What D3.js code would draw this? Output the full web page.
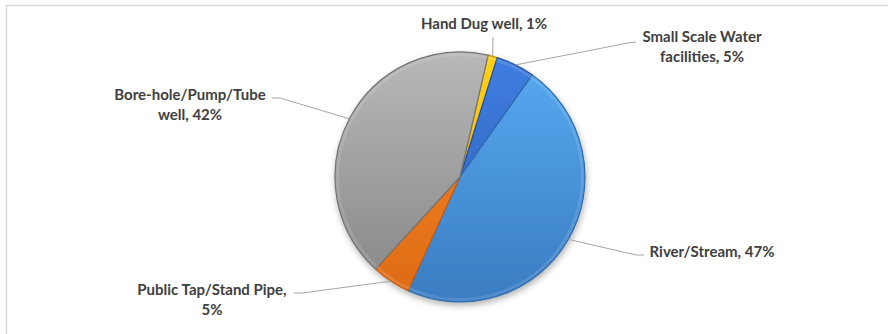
<!DOCTYPE html>
<html>
<head>
<meta charset="utf-8">
<script src="https://cdn.jsdelivr.net/npm/d3@7"></script>
<style>
  body { margin: 0; background: #fff; }
  svg { display: block; }
</style>
</head>
<body>
<svg width="888" height="334"></svg>
<script>
// data
const categories = ["Hand Dug well", "Small Scale Water facilities", "River/Stream", "Public Tap/Stand Pipe", "Bore-hole/Pump/Tube well"];
const shares = [1.2, 5, 47, 5, 41.8];
const shownPct = ["1%", "5%", "47%", "5%", "42%"];
const labelLines = [
    ["Hand Dug well, 1%"],
    ["Small Scale Water", "facilities, 5%"],
    ["River/Stream, 47%"],
    ["Public Tap/Stand Pipe,", "5%"],
    ["Bore-hole/Pump/Tube", "well, 42%"]
];
const colorsTop = ["#ffd21a", "#3f7fe2", "#58abf2", "#f7892a", "#b8b8b8"];
const colorsBottom = ["#e0a800", "#2c5bb0", "#3a7cc2", "#dd6a14", "#858585"];

// layout of the labels (x centre, first line y, where the leader meets the text)
const labelLayout = [
    { x: 484, y: 29, lx: 493, ly: 37, bend: null },
    { x: 702, y: 42, lx: 636, ly: 42, bend: [628, 43] },
    { x: 712, y: 257, lx: 644, ly: 255, bend: [636, 255] },
    { x: 212, y: 295, lx: 294, ly: 293, bend: [302, 293] },
    { x: 190, y: 100, lx: 272, ly: 98, bend: [280, 98] }
];

const svg = d3.select("svg");
const cx = 460, cy = 177, r = 125;
const startOffset = 13 * Math.PI / 180;

// chart border (only left and top visible)
svg.append("rect")
    .attr("x", 6.5).attr("y", 5.5)
    .attr("width", 900).attr("height", 340)
    .attr("fill", "none")
    .attr("stroke", "#d9d9d9")
    .attr("stroke-width", 1.5);

const defs = svg.append("defs");
const shadow = defs.append("filter").attr("id", "shadow")
    .attr("x", "-20%").attr("y", "-20%").attr("width", "140%").attr("height", "140%");
shadow.append("feDropShadow")
    .attr("dx", 1).attr("dy", 3).attr("stdDeviation", 3)
    .attr("flood-color", "#000").attr("flood-opacity", 0.3);

// gradients in the pie group's own coordinates (centred on 0,0)
categories.forEach((c, i) => {
    const g = defs.append("linearGradient")
        .attr("id", "grad" + i)
        .attr("gradientUnits", "userSpaceOnUse")
        .attr("x1", 0).attr("y1", -r)
        .attr("x2", 0).attr("y2", r);
    g.append("stop").attr("offset", "0%").attr("stop-color", colorsTop[i]);
    g.append("stop").attr("offset", "100%").attr("stop-color", colorsBottom[i]);
});

const pie = d3.pie()
    .value((d) => d)
    .sort(null)
    .startAngle(startOffset)
    .endAngle(startOffset + 2 * Math.PI);

const arcs = pie(shares);
const arc = d3.arc().innerRadius(0).outerRadius(r);
const edgeArc = d3.arc().innerRadius(r).outerRadius(r);

const pieG = svg.append("g")
    .attr("transform", `translate(${cx}, ${cy})`)
    .attr("filter", "url(#shadow)");

pieG.selectAll("path.slice")
    .data(arcs)
    .enter()
    .append("path")
    .attr("class", "slice")
    .attr("d", arc)
    .attr("fill", (d, i) => `url(#grad${i})`)
    .attr("stroke", (d, i) => d3.color(colorsBottom[i]).darker(0.4))
    .attr("stroke-width", 1.2)
    .attr("stroke-linejoin", "round");

// soft bevel highlight along the rim
pieG.selectAll("path.rim")
    .data(arcs)
    .enter()
    .append("path")
    .attr("class", "rim")
    .attr("d", d3.arc().innerRadius(r - 4).outerRadius(r - 1))
    .attr("fill", "#fff")
    .attr("opacity", 0.12);

// leader lines
const lines = svg.append("g");
arcs.forEach((a, i) => {
    const p = edgeArc.centroid(a);
    const L = labelLayout[i];
    const pts = [[cx + p[0], cy + p[1]]];
    if (L.bend) pts.push(L.bend);
    pts.push([L.lx, L.ly]);
    lines.append("path")
        .attr("d", d3.line()(pts))
        .attr("fill", "none")
        .attr("stroke", "#a6a6a6")
        .attr("stroke-width", 1);
});

// labels
const labels = svg.append("g")
    .attr("font-family", "Lato, 'Open Sans', sans-serif")
    .attr("font-weight", "bold")
    .attr("font-size", 15)
    .attr("fill", "#404040")
    .attr("text-anchor", "middle");

labelLines.forEach((ls, i) => {
    const L = labelLayout[i];
    const t = labels.append("text").attr("x", L.x).attr("y", L.y);
    ls.forEach((s, j) => {
        t.append("tspan").attr("x", L.x).attr("dy", j === 0 ? 0 : 20).text(s);
    });
});
</script>
</body>
</html>
